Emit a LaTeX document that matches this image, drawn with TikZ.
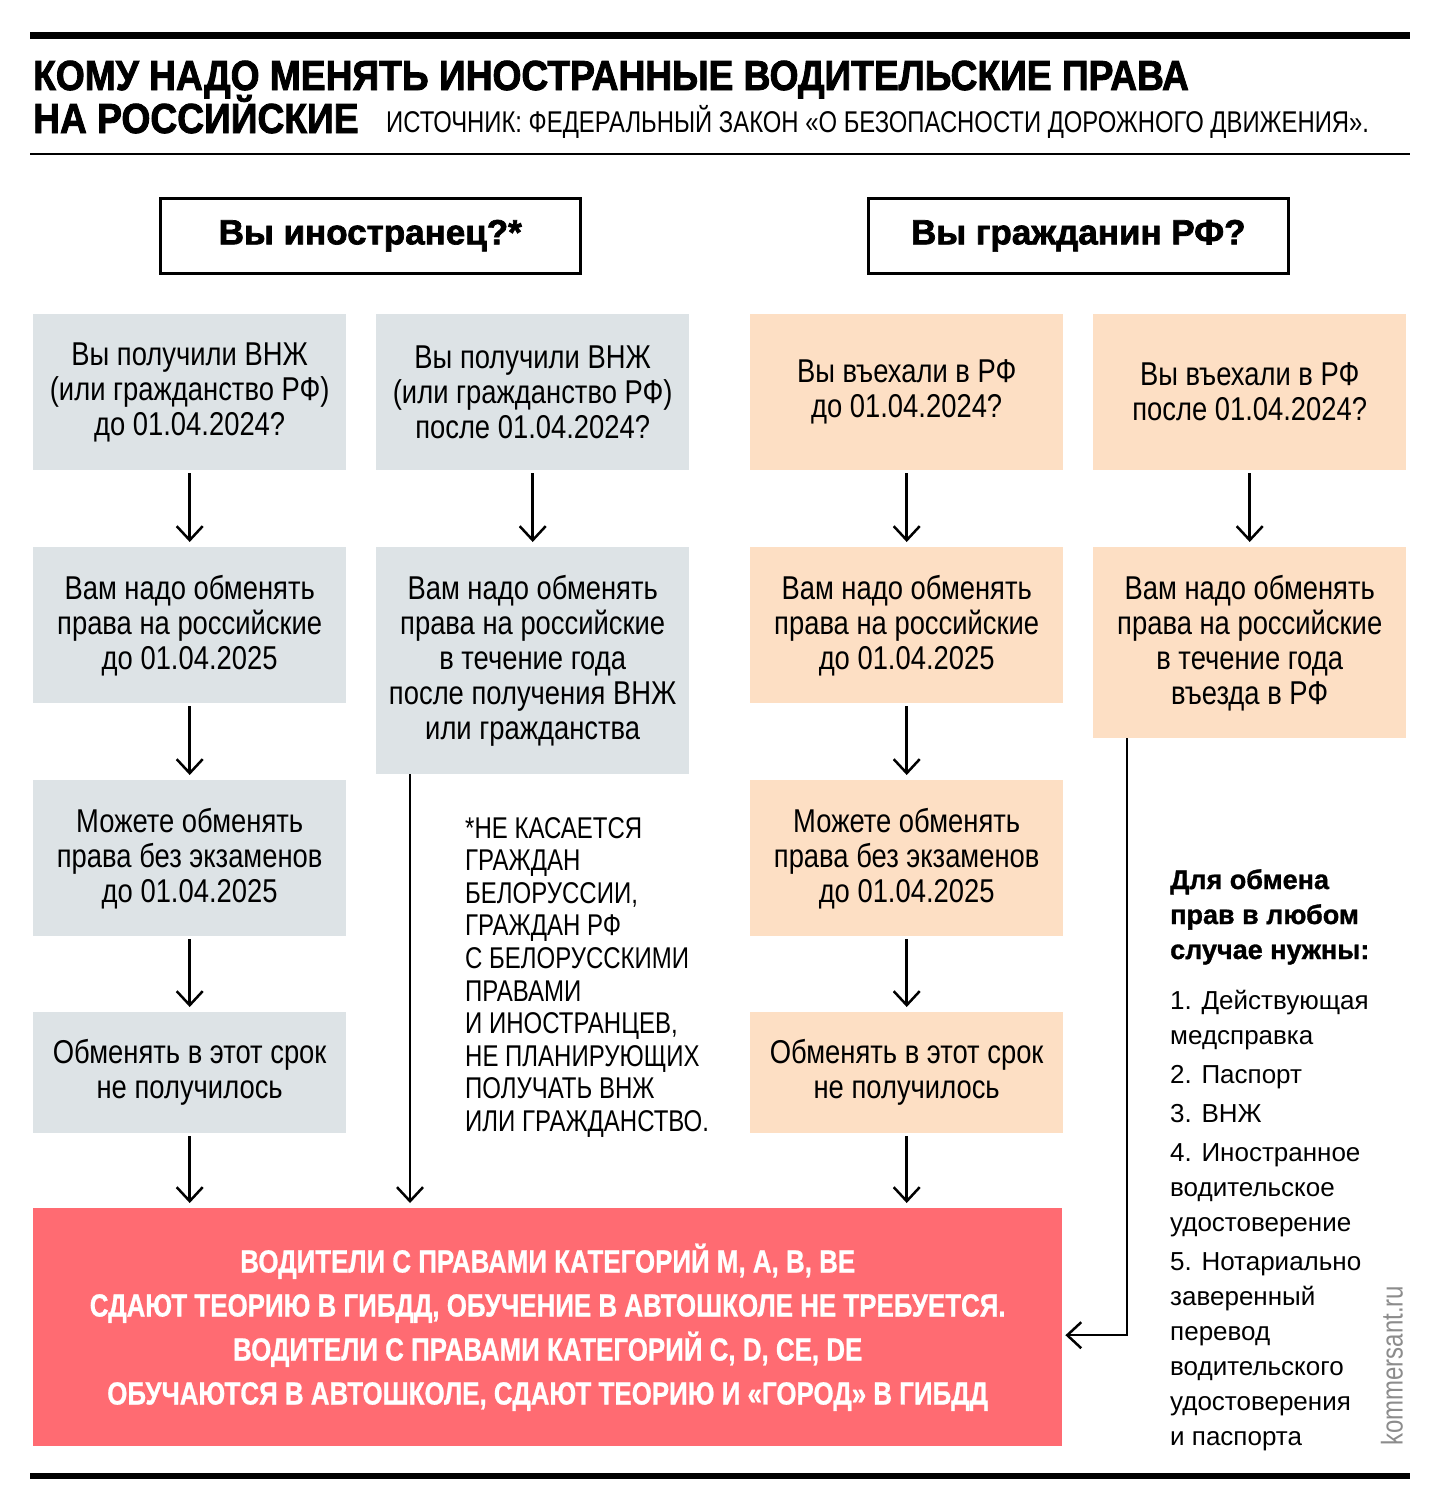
\documentclass[tikz,border=0pt]{standalone}
\usepackage{fontspec}
\usetikzlibrary{arrows.meta}
\setmainfont{Liberation Sans}
\newfontfamily\cond[FakeStretch=0.83]{Liberation Sans}
\newfontfamily\srcf[FakeStretch=0.795]{Liberation Sans}
\newfontfamily\notef[FakeStretch=0.8]{Liberation Sans}
\newfontfamily\markf[FakeStretch=0.8]{Liberation Sans}
\newfontfamily\redf[FakeStretch=0.81,FakeBold=0.8]{Liberation Sans}
\newfontfamily\heavy[FakeStretch=0.885,FakeBold=2]{Liberation Sans}
\newfontfamily\qfont[FakeBold=2]{Liberation Sans}
\newfontfamily\hfont[FakeBold=1.2]{Liberation Sans}
\definecolor{greybox}{RGB}{221,227,230}
\definecolor{peachbox}{RGB}{253,223,196}
\definecolor{redbox}{RGB}{255,107,114}
\definecolor{markgrey}{RGB}{140,140,140}
\tikzset{
  cell/.style={anchor=north west, minimum width=313pt, minimum height=156pt, inner sep=0pt, align=center,
    font=\cond\fontsize{33}{35}\selectfont},
  gcell/.style={cell, fill=greybox},
  pcell/.style={cell, fill=peachbox},
  qbox/.style={anchor=north west, draw, line width=2.5pt, minimum width=420pt, minimum height=75pt, inner sep=0pt,
    font=\qfont\bfseries\fontsize{35}{38}\selectfont},
  arr/.style={line width=2.5pt, -{Straight Barb[length=14pt,width=26pt,line width=2.5pt]}},
  rule/.style={line cap=butt},
}
\begin{document}
\begin{tikzpicture}[x=1pt,y=-1pt]
\useasboundingbox (0,0) rectangle (1440,1510);
\fill[white] (0,0) rectangle (1440,1510);
% rules
\draw[rule, line width=7pt] (30,35.5) -- (1410,35.5);
\draw[rule, line width=2pt] (30,154) -- (1410,154);
\draw[rule, line width=6pt] (30,1476) -- (1410,1476);
% title
\node[anchor=base west, inner sep=0pt, font=\heavy\bfseries\fontsize{42}{44}\selectfont] (t1) at (33,90) {КОМУ НАДО МЕНЯТЬ ИНОСТРАННЫЕ ВОДИТЕЛЬСКИЕ ПРАВА};
\node[anchor=base west, inner sep=0pt, font=\heavy\bfseries\fontsize{42}{44}\selectfont] (t2) at (33,133) {НА РОССИЙСКИЕ};
\node[anchor=base west, inner sep=0pt, font=\srcf\fontsize{30}{32}\selectfont] (src) at (386,132) {ИСТОЧНИК: ФЕДЕРАЛЬНЫЙ ЗАКОН «О БЕЗОПАСНОСТИ ДОРОЖНОГО ДВИЖЕНИЯ».};
% question boxes
\node[qbox] (qf) at (159,197) {Вы иностранец?*};
\node[qbox] (qr) at (867,197) {Вы гражданин РФ?};
% column 1
\node[gcell] (g1a) at (33,314) {Вы получили ВНЖ\\(или гражданство РФ)\\до 01.04.2024?};
\node[gcell] (g1b) at (33,547) {Вам надо обменять\\права на российские\\до 01.04.2025};
\node[gcell] (g1c) at (33,780) {Можете обменять\\права без экзаменов\\до 01.04.2025};
\node[gcell, minimum height=121pt] (g1d) at (33,1012) {Обменять в этот срок\\не получилось};
% column 2
\node[gcell] (g2a) at (376,314) {Вы получили ВНЖ\\(или гражданство РФ)\\после 01.04.2024?};
\node[gcell, minimum height=227pt] (g2b) at (376,547) {Вам надо обменять\\права на российские\\в течение года\\после получения ВНЖ\\или гражданства};
% column 3
\node[pcell] (p1a) at (750,314) {Вы въехали в РФ\\до 01.04.2024?};
\node[pcell] (p1b) at (750,547) {Вам надо обменять\\права на российские\\до 01.04.2025};
\node[pcell] (p1c) at (750,780) {Можете обменять\\права без экзаменов\\до 01.04.2025};
\node[pcell, minimum height=121pt] (p1d) at (750,1012) {Обменять в этот срок\\не получилось};
% column 4
\node[pcell] (p2a) at (1093,314) {Вы въехали в РФ\\после 01.04.2024?};
\node[pcell, minimum height=191pt] (p2b) at (1093,547) {Вам надо обменять\\права на российские\\в течение года\\въезда в РФ};
% result
\node[anchor=north west, fill=redbox, minimum width=1029pt, minimum height=238pt, inner sep=0pt, align=center,
  text=white, font=\redf\bfseries\fontsize{32}{44}\selectfont] (red) at (33,1208)
  {ВОДИТЕЛИ С ПРАВАМИ КАТЕГОРИЙ M, A, B, BE\\СДАЮТ ТЕОРИЮ В ГИБДД, ОБУЧЕНИЕ В АВТОШКОЛЕ НЕ ТРЕБУЕТСЯ.\\ВОДИТЕЛИ С ПРАВАМИ КАТЕГОРИЙ C, D, CE, DE\\ОБУЧАЮТСЯ В АВТОШКОЛЕ, СДАЮТ ТЕОРИЮ И «ГОРОД» В ГИБДД};
% footnote
\node[anchor=north west, inner sep=0pt, align=left, font=\notef\fontsize{30}{32.6}\selectfont] (note) at (465,817)
  {*НЕ КАСАЕТСЯ\\ГРАЖДАН\\БЕЛОРУССИИ,\\ГРАЖДАН РФ\\С БЕЛОРУССКИМИ\\ПРАВАМИ\\И ИНОСТРАНЦЕВ,\\НЕ ПЛАНИРУЮЩИХ\\ПОЛУЧАТЬ ВНЖ\\ИЛИ ГРАЖДАНСТВО.};
% right list
\node[anchor=north west, inner sep=0pt, align=left, font=\hfont\bfseries\fontsize{27}{35}\selectfont] (lh) at (1170,869)
  {Для обмена\\прав в любом\\случае нужны:};
\node[anchor=north west, inner sep=0pt, align=left, font=\fontsize{26}{35}\selectfont] (ll) at (1170,990)
  {1. Действующая\\медсправка\\[4pt]2. Паспорт\\[4pt]3. ВНЖ\\[4pt]4. Иностранное\\водительское\\удостоверение\\[4pt]5. Нотариально\\заверенный\\перевод\\водительского\\удостоверения\\и паспорта};
\node[anchor=south west, rotate=90, inner sep=0pt, text=markgrey, font=\markf\fontsize{30}{32}\selectfont] (km) at (1403,1446) {kommersant.ru};
% connectors
\foreach \a/\b in {g1a/g1b, g1b/g1c, g1c/g1d, g1d/red, g2a/g2b, p1a/p1b, p1b/p1c, p1c/p1d, p1d/red, p2a/p2b}
  \draw[arr, shorten <=3pt, shorten >=5pt] (\a.south) -- (\a.south |- \b.north);
\draw[arr, shorten >=5pt] ([xshift=34pt]g2b.south west) -- ([xshift=34pt]g2b.south west |- red.north);
\draw[arr, shorten >=3pt] ([xshift=34pt]p2b.south west) |- ([yshift=-8pt]red.east);
\end{tikzpicture}
\end{document}
